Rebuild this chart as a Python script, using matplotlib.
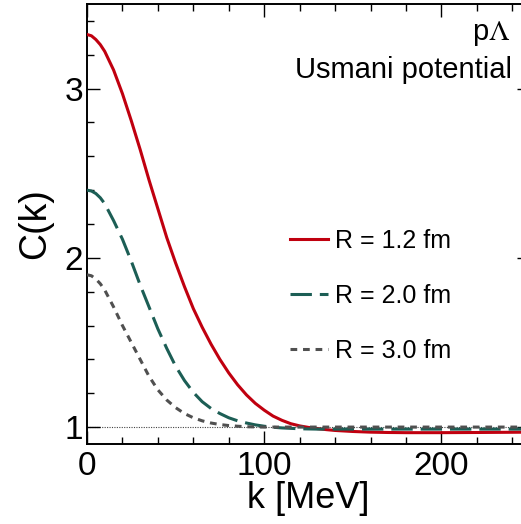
import numpy as np
import matplotlib
matplotlib.use("Agg")
import matplotlib.pyplot as plt
from matplotlib.ticker import MultipleLocator

plt.rcParams['font.family'] = ['Liberation Sans', 'DejaVu Sans']
plt.rcParams['mathtext.fontset'] = 'stix'

# correlation function C(k) for the p-Lambda pair, Usmani potential
k_r12 = [0, 2.5, 5, 7.5, 10, 15, 20, 25, 30, 35, 40, 45, 50, 55, 60, 65, 70, 75, 80,
         85, 90, 95, 100, 105, 110, 115, 120, 125, 130, 135, 140, 150, 160, 170,
         180, 200, 220, 250]
c_r12 = [3.32, 3.312, 3.29, 3.26, 3.22, 3.11, 2.97, 2.81, 2.64, 2.46, 2.29, 2.12,
         1.97, 1.83, 1.70, 1.59, 1.49, 1.40, 1.32, 1.25, 1.19, 1.14, 1.10, 1.065,
         1.04, 1.02, 1.007, 0.998, 0.991, 0.985, 0.980, 0.974, 0.970, 0.968, 0.967,
         0.967, 0.968, 0.970]

k_r20 = [0, 2.5, 5, 7.5, 10, 15, 20, 25, 30, 35, 40, 45, 50, 55, 60, 65, 70, 75, 80,
         85, 90, 95, 100, 105, 110, 120, 130, 250]
c_r20 = [2.40, 2.395, 2.38, 2.355, 2.32, 2.22, 2.11, 1.98, 1.84, 1.71, 1.58, 1.465,
         1.36, 1.275, 1.205, 1.15, 1.11, 1.08, 1.055, 1.037, 1.024, 1.013, 1.005,
         0.999, 0.995, 0.99, 0.988, 0.988]

k_r30 = [0, 2.5, 5, 7.5, 10, 15, 20, 25, 30, 35, 40, 45, 50, 55, 60, 65, 70, 75, 80,
         85, 90, 100, 250]
c_r30 = [1.90, 1.894, 1.875, 1.847, 1.81, 1.71, 1.60, 1.50, 1.40, 1.30, 1.22, 1.16,
         1.115, 1.08, 1.055, 1.037, 1.024, 1.015, 1.009, 1.005, 1.002, 1.0, 1.0]

labels = ['R = 1.2 fm', 'R = 2.0 fm', 'R = 3.0 fm']

fig = plt.figure(figsize=(5.21, 5.24), dpi=100)
ax = fig.add_axes([87 / 521, 80 / 524, 443 / 521, 440 / 524])

ax.axhline(1.0, color='#444444', lw=0.8, ls=(0, (1, 1.2)), zorder=1)
ax.plot(k_r12, c_r12, color='#c0000f', lw=2.2, label=labels[0], zorder=3)
ax.plot(k_r20, c_r20, color='#1c5e55', lw=2.2, dashes=(7, 2.6), label=labels[1], zorder=4)
ax.plot(k_r30, c_r30, color='#505050', lw=2.2, dashes=(2.2, 1.9), label=labels[2], zorder=5)

ax.set_xlim(0, 250)
ax.set_ylim(0.9, 3.5)
ax.xaxis.set_major_locator(MultipleLocator(100))
ax.xaxis.set_minor_locator(MultipleLocator(20))
ax.yaxis.set_major_locator(MultipleLocator(1))
ax.yaxis.set_minor_locator(MultipleLocator(0.2))
ax.tick_params(which='both', direction='in', top=True, right=True, width=1.0,
               labelsize=24)
ax.tick_params(which='major', length=9.5)
ax.tick_params(which='minor', length=5)
ax.tick_params(axis='x', pad=5)
ax.tick_params(axis='y', pad=3)
for s in ax.spines.values():
    s.set_linewidth(1.4)

ax.set_xlabel('k [MeV]', fontsize=26, labelpad=-1)
ax.set_ylabel('C(k)', fontsize=27, labelpad=8)

ax.text(0.955, 0.918, r'p$\Lambda$', transform=ax.transAxes, ha='right',
        va='baseline', fontsize=21)
ax.text(0.959, 0.832, 'Usmani potential', transform=ax.transAxes, ha='right',
        va='baseline', fontsize=21)

ax.legend(loc='upper left', bbox_to_anchor=(0.458, 0.4895), frameon=False,
          fontsize=18, handlelength=1.52, handletextpad=0.28, labelspacing=1.25,
          borderpad=0, borderaxespad=0)

fig.savefig('out.png', dpi=100)
